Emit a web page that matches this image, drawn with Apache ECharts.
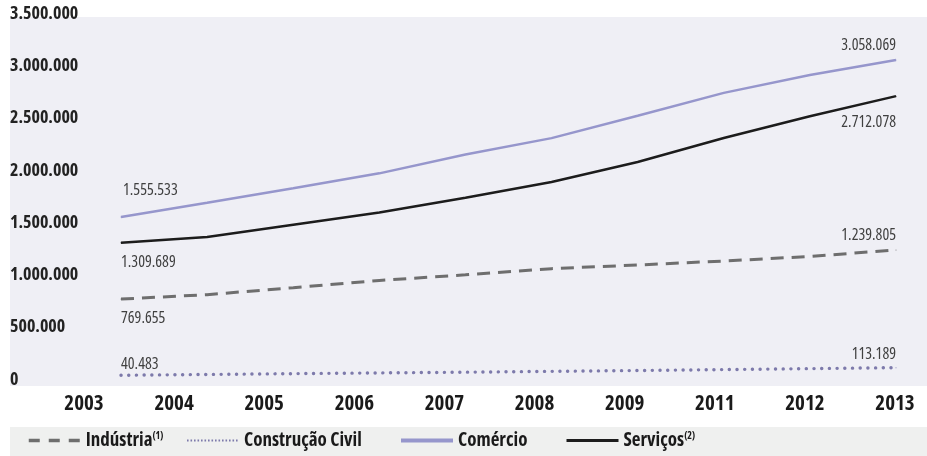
<!DOCTYPE html>
<html><head><meta charset="utf-8">
<script src="https://cdn.jsdelivr.net/npm/echarts@6/dist/echarts.min.js"></script>
<style>html,body{margin:0;padding:0;background:#fff}#c{width:927px;height:456px}</style>
</head><body><div id="c"></div>
<script>
const years = ['2003','2004','2005','2006','2007','2008','2009','2011','2012','2013'];
const industria = [769655, 812000, 879000, 948000, 1002000, 1061000, 1096000, 1134000, 1178000, 1239805];
const construcao = [40483, 48000, 56000, 63000, 70000, 78000, 86000, 95000, 104000, 113189];
const comercio = [1555533, 1692000, 1830000, 1973000, 2154000, 2310000, 2524000, 2743000, 2914000, 3058069];
const servicos = [1309689, 1364000, 1482000, 1599000, 1739000, 1890000, 2082000, 2312000, 2520000, 2712078];
const yMin = 0, yMax = 3500000, yStep = 500000;

const FAM = '"Open Sans", sans-serif';
const STRETCH = 'condensed';
const fmt = v => String(v).replace(/\B(?=(\d{3})+(?!\d))/g, '.');

const seriesDefs = [
  {name:'Indústria', data:industria, color:'#6e6e6e', width:3, type:[13,8], cap:'butt', lab:[0, 19, 0, -15],
   legendLeft:27, sup:'(1)', legendLine:{width:3.5, type:[11,9], cap:'butt'}},
  {name:'Construção Civil', data:construcao, color:'#7d7aab', width:3.4, type:[0.1,7.6], cap:'round', lab:[0, -11, 0, -13],
   legendLeft:186, sup:'', legendLine:{width:2, type:[1.6,1.9], cap:'butt'}},
  {name:'Comércio', data:comercio, color:'#9696cc', width:2.5, type:'solid', cap:'butt', lab:[2, -27, 0, -15],
   legendLeft:399, sup:'', legendLine:{width:4, type:'solid', cap:'butt'}},
  {name:'Serviços', data:servicos, color:'#1c1c1c', width:2.5, type:'solid', cap:'butt', lab:[0, 20, 0, 26],
   legendLeft:565, sup:'(2)', legendLine:{width:3, type:'solid', cap:'butt'}}
];

function buildData(def){
  const last = def.data.length - 1;
  return def.data.map((v,i) => {
    if (i !== 0 && i !== last) return v;
    const start = i === 0;
    return {
      value: v, symbol: 'circle', symbolSize: 1,
      itemStyle: {color: def.color},
      label: {
        show: true, position: 'inside', formatter: fmt(v),
        align: start ? 'left' : 'right', verticalAlign: 'middle',
        offset: start ? [def.lab[0], def.lab[1]] : [def.lab[2], def.lab[3]],
        fontFamily: FAM, fontStyle: STRETCH, fontWeight: 400, fontSize: 16, color: '#404040',
        textBorderWidth: 0, textBorderColor: 'transparent'
      }
    };
  });
}

const series = seriesDefs.map(def => ({
  name: def.name, type: 'line', xAxisIndex: 0, yAxisIndex: 0,
  symbol: 'none', showSymbol: true, showAllSymbol: true,
  color: def.color,
  itemStyle: {color: def.color},
  lineStyle: {color: def.color, width: def.width, type: def.type, cap: def.cap},
  emphasis: {disabled: true},
  data: buildData(def),
  z: 3
}));

const legends = seriesDefs.map(def => ({
  data: [{name: def.name, itemStyle: {opacity: 0}}], left: def.legendLeft, top: 431, padding: 0,
  itemWidth: 52, itemHeight: 14, itemGap: 0, selectedMode: false,
  itemStyle: {opacity: 0},
  lineStyle: Object.assign({color: def.color}, def.legendLine),
  formatter: n => def.sup ? '{b|' + n + '}{s|' + def.sup + '}' : '{b|' + n + '}',
  textStyle: {
    color: '#1a1a1a', fontFamily: FAM, fontStyle: STRETCH, fontWeight: 'bold', fontSize: 19,
    rich: {
      b: {fontFamily: FAM, fontStyle: STRETCH, fontWeight: 'bold', fontSize: 19, color: '#1a1a1a'},
      s: {fontFamily: FAM, fontStyle: STRETCH, fontWeight: 'bold', fontSize: 10, color: '#1a1a1a', verticalAlign: 'top'}
    }
  }
}));

const option = {
  animation: false,
  backgroundColor: '#ffffff',
  graphic: [
    {type:'rect', left: 10, top: 17, shape:{width: 917, height: 369}, style:{fill:'#efeff5'}, z: -10, silent: true},
    {type:'rect', left: 10, top: 427, shape:{width: 917, height: 29}, style:{fill:'#eff0ef'}, z: -10, silent: true}
  ],
  legend: legends,
  grid: [
    {left: 121, right: 31, top: 13.8, bottom: 76.5, containLabel: false},
    {left: 84, right: 32, top: 13.8, bottom: 76.5, containLabel: false}
  ],
  xAxis: [
    {type: 'category', gridIndex: 0, data: years, boundaryGap: false, show: false},
    {type: 'category', gridIndex: 1, data: years, boundaryGap: false,
     axisLine: {show: false}, axisTick: {show: false}, splitLine: {show: false},
     axisLabel: {margin: 14, interval: 0, fontFamily: FAM, fontStyle: STRETCH, fontWeight: 'bold', fontSize: 21, color: '#1a1a1a'}}
  ],
  yAxis: [
    {type: 'value', gridIndex: 0, min: yMin, max: yMax, interval: yStep,
     axisLine: {show: false}, axisTick: {show: false}, splitLine: {show: false},
     axisLabel: {align: 'left', margin: 111, formatter: fmt, fontFamily: FAM, fontStyle: STRETCH, fontWeight: 'bold', fontSize: 18, color: '#222222'}},
    {type: 'value', gridIndex: 1, min: yMin, max: yMax, show: false}
  ],
  series: series
};

const chart = echarts.init(document.getElementById('c'), null, {renderer: 'canvas'});
chart.setOption(option);
</script>
</body></html>
